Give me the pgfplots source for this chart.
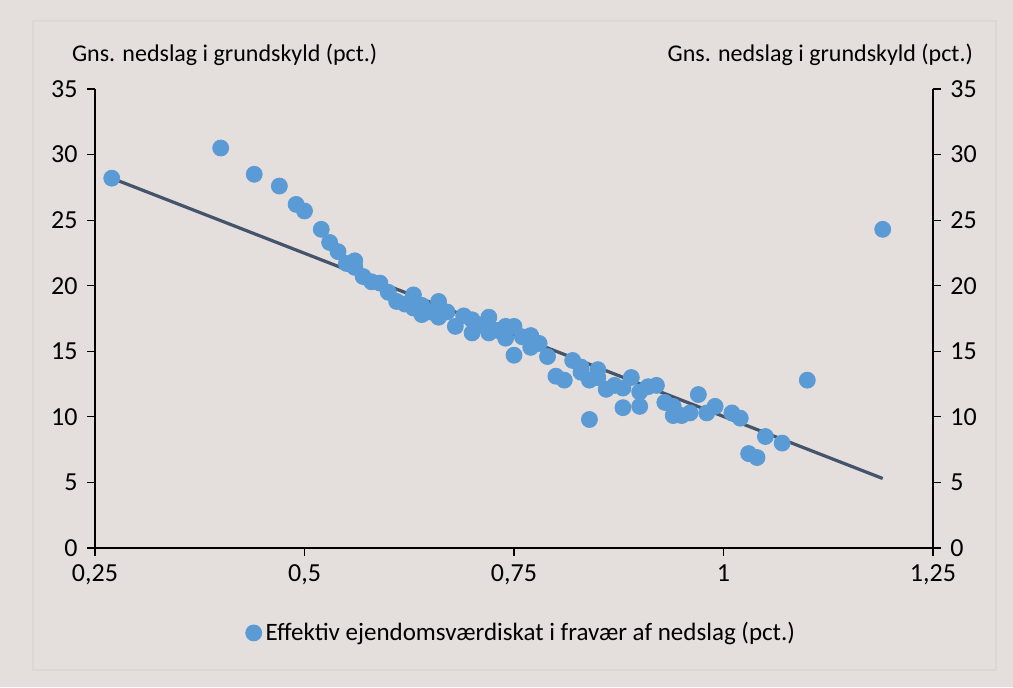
\documentclass[border=0pt]{standalone}
\usepackage{pgfplots}
\pgfplotsset{compat=1.18}
\usepackage{fontspec}
\setmainfont{Carlito}
\definecolor{bgc}{HTML}{E4DEDC}
\definecolor{framec}{HTML}{DAD7D5}
\definecolor{dotc}{HTML}{5B9BD5}
\definecolor{linec}{HTML}{44546A}

\pgfplotstableread{
x y
0.27 28.2
0.40 30.5
0.44 28.5
0.47 27.6
0.49 26.2
0.50 25.7
0.52 24.3
0.53 23.3
0.54 22.6
0.55 21.7
0.56 21.9
0.56 21.4
0.57 20.7
0.58 20.3
0.59 20.2
0.60 19.5
0.61 18.8
0.62 18.6
0.63 19.3
0.63 18.3
0.64 17.8
0.64 18.5
0.65 18.0
0.66 18.8
0.66 17.6
0.67 18.0
0.68 16.9
0.69 17.7
0.70 17.4
0.70 16.4
0.71 17.0
0.72 17.6
0.72 16.4
0.73 16.6
0.74 16.9
0.74 16.0
0.75 16.9
0.75 14.7
0.76 16.1
0.77 16.2
0.77 15.3
0.78 15.6
0.79 14.6
0.80 13.1
0.81 12.8
0.82 14.3
0.83 13.8
0.83 13.4
0.84 12.8
0.84 9.8
0.85 13.6
0.85 13.0
0.86 12.1
0.87 12.4
0.88 12.2
0.88 10.7
0.89 13.0
0.90 11.9
0.90 10.8
0.91 12.3
0.92 12.4
0.93 11.1
0.94 10.8
0.94 10.1
0.95 10.1
0.96 10.3
0.97 11.7
0.98 10.3
0.99 10.8
1.01 10.3
1.02 9.9
1.03 7.2
1.04 6.9
1.05 8.5
1.07 8.0
1.10 12.8
1.19 24.3
}\scatterdata

\pgfplotstableread{
x y
0.27 28.2
1.19 5.3
}\trenddata

\begin{document}
\begin{tikzpicture}
\fill[bgc] (-47.5pt,-69.5pt) rectangle (459pt,274pt);
\draw[framec, line width=0.6pt] (-31pt,-61pt) rectangle (450.5pt,263.5pt);
\pgfplotsset{
  every axis/.append style={
    scale only axis, width=419pt, height=229.5pt,
    at={(0,0)}, anchor=south west,
    xmin=0.25, xmax=1.25, ymin=0, ymax=35,
    ytick={0,5,...,35},
    tick align=outside, major tick length=4pt,
    tick style={black, line width=0.6pt},
    axis line style={black, line width=0.6pt},
    tick label style={font=\fontsize{13}{15}\selectfont},
    yticklabel style={inner xsep=4.5pt},
    xticklabel style={inner ysep=4pt},
    /pgf/number format/assume math mode=true,
  },
}
\begin{axis}[
  axis x line*=bottom, axis y line*=left,
  xtick={0.25,0.5,0.75,1,1.25},
  xticklabels={0{,}25,0{,}5,0{,}75,1,1{,}25},
  legend style={draw=none, fill=none, at={(0.51,-0.185)}, anchor=center,
    font=\fontsize{12.5}{14}\selectfont,
    /tikz/every odd column/.append style={xshift=4pt}},
  legend cell align=left,
]
\addplot[only marks, mark=*, mark size=4pt, color=dotc] table {\scatterdata};
\addlegendentry{Effektiv ejendomsværdiskat i fravær af nedslag (pct.)}
\addplot[forget plot, linec, line width=1.6pt] table {\trenddata};
\end{axis}
\begin{axis}[
  axis x line=none, axis y line*=right,
]
\end{axis}
\node[anchor=west, font=\fontsize{12}{14}\selectfont] at (-15pt,246.5pt) {Gns. nedslag i grundskyld (pct.)};
\node[anchor=east, font=\fontsize{12}{14}\selectfont] at (442.5pt,246.5pt) {Gns. nedslag i grundskyld (pct.)};
\end{tikzpicture}
\end{document}
